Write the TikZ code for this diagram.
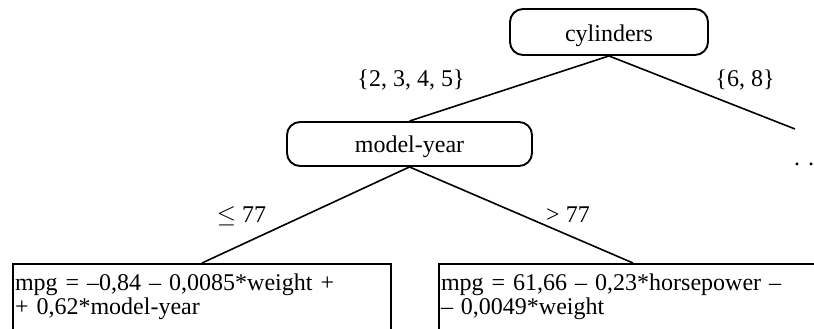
\documentclass[tikz,border=0pt]{standalone}
\usepackage{fontspec}
\setmainfont{Liberation Serif}
\begin{document}
\begin{tikzpicture}[x=1pt,y=-1pt,
  every node/.style={font=\fontsize{24}{24.5}\selectfont},
  test/.style={draw,line width=1.9pt,rounded corners=13pt,inner sep=0pt},
  leaf/.style={draw,line width=2pt,inner xsep=2pt,inner ysep=0pt,align=left,anchor=north west,text height=26pt,text depth=70pt},
  edge/.style={line width=1.6pt},
  lbl/.style={anchor=base}]
\useasboundingbox (0,0) rectangle (814,329);
\clip (0,0) rectangle (814,329);
\node[test,minimum width=198pt,minimum height=46pt,text height=23.4pt,text depth=4pt] (cyl) at (609,32) {cylinders};
\node[test,minimum width=245pt,minimum height=44pt,text height=22pt,text depth=4.6pt] (my) at (409.5,144) {model-year};
\node[leaf,text width=374pt] (l1) at (12,263) {mpg = –0,84 – 0,0085*weight +\\+ 0,62*model-year};
\node[leaf,text width=384pt] (l2) at (438,263) {mpg = 61,66 – 0,23*horsepower –\\– 0,0049*weight};
\coordinate (rend) at (795,129);
\draw[edge] (cyl.south) -- (my.north);
\draw[edge] (cyl.south) -- (rend);
\draw[edge] (my.south) -- (l1.north);
\draw[edge] (my.south) -- (l2.north);
\node[lbl] (a1) at (411,87) {\{2, 3, 4, 5\}};
\node[lbl] (a2) at (745,87) {\{6, 8\}};
\node[lbl] (a3) at (241.5,222) {$\leq$ 77};
\node[lbl] (a4) at (568,222) {> 77};
\node[anchor=base west,inner sep=0pt] (dots) at (794,165) {. . .};
\end{tikzpicture}
\end{document}
